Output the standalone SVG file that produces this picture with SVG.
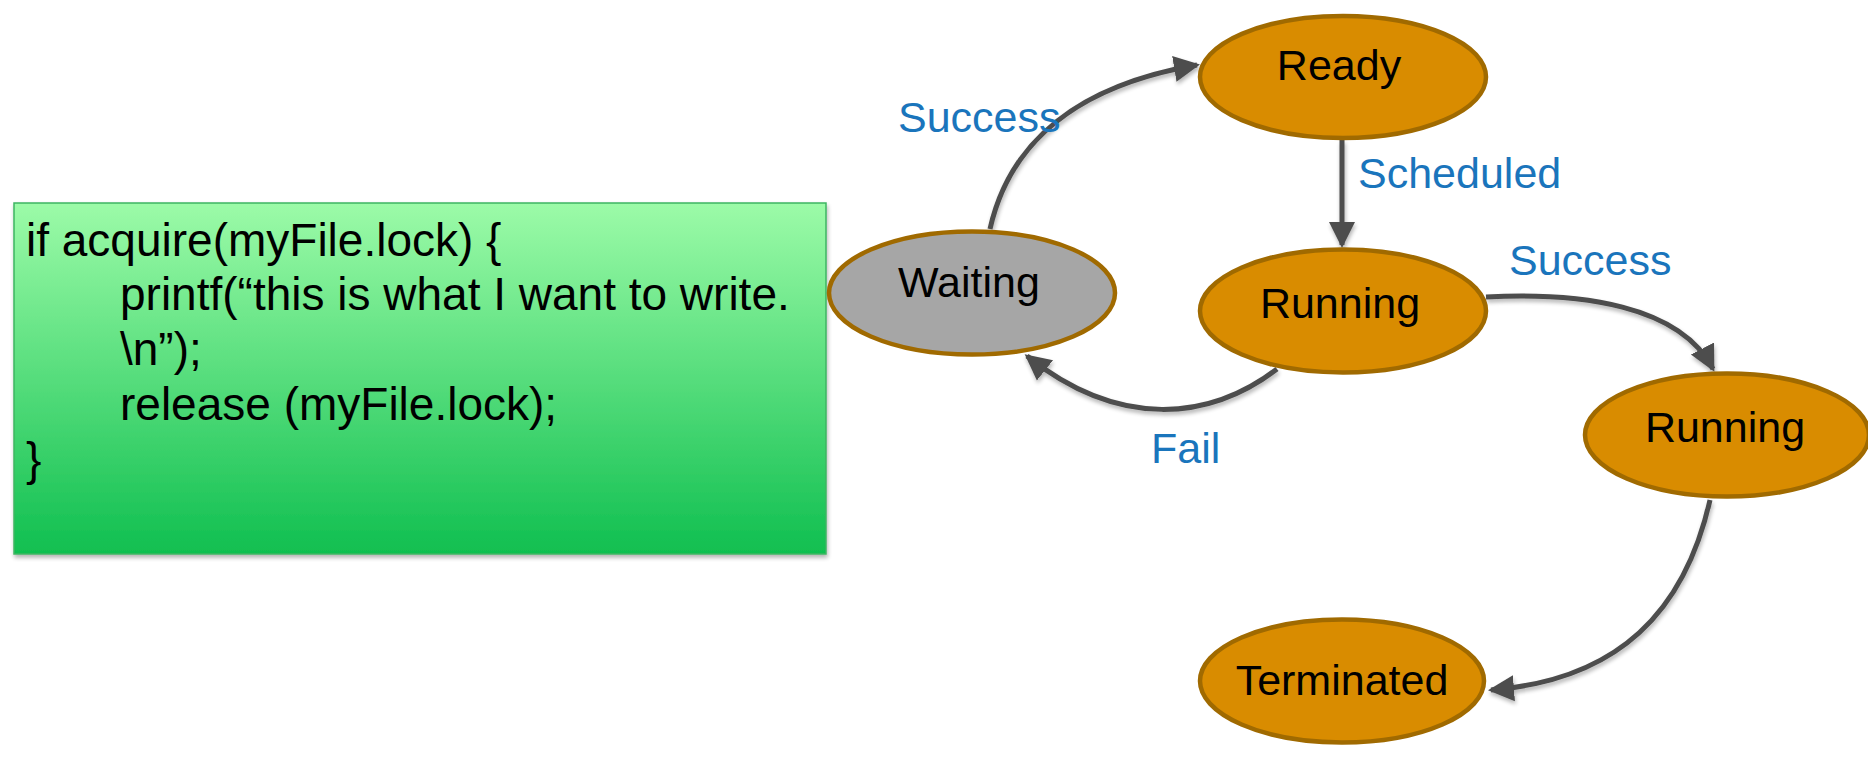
<svg xmlns="http://www.w3.org/2000/svg" width="1868" height="761" viewBox="0 0 1868 761">
  <defs>
    <linearGradient id="gfill" x1="0" y1="0" x2="0" y2="1">
      <stop offset="0" stop-color="#9CFBA8"/>
      <stop offset="1" stop-color="#10BF50"/>
    </linearGradient>
    <filter id="shadow" x="-10%" y="-10%" width="120%" height="120%">
      <feGaussianBlur in="SourceAlpha" stdDeviation="2"/>
      <feOffset dx="1" dy="3" result="b"/>
      <feComponentTransfer><feFuncA type="linear" slope="0.3"/></feComponentTransfer>
      <feMerge><feMergeNode/><feMergeNode in="SourceGraphic"/></feMerge>
    </filter>
    <marker id="arrow" markerUnits="userSpaceOnUse" markerWidth="28" markerHeight="28" viewBox="0 0 28 28" refX="23" refY="14" orient="auto">
      <path d="M0,1 L26,14 L0,27 Z" fill="#4D4D4D"/>
    </marker>
  </defs>
  <style>
    .state { stroke: #A06A00; stroke-width: 4.5; }
    .orange { fill: #D98C00; }
    .gray { fill: #A6A6A6; }
    .lbl { font-family: "Liberation Sans", Arial, sans-serif; font-size: 43px; fill: #000; text-anchor: middle; }
    .elbl { font-family: "Liberation Sans", Arial, sans-serif; font-size: 43px; fill: #1A75BC; }
    .code { font-family: "Liberation Sans", Arial, sans-serif; font-size: 46px; fill: #000; }
    .edge { fill: none; stroke: #4D4D4D; stroke-width: 5; marker-end: url(#arrow); }
  </style>

  <g id="code-box">
    <rect x="14" y="203" width="812" height="351" fill="url(#gfill)" stroke="#3DB562" stroke-width="1.5" filter="url(#shadow)"/>
    <text class="code" x="26" y="256">if acquire(myFile.lock) {</text>
    <text class="code" x="120" y="310">printf(“this is what I want to write.</text>
    <text class="code" x="120" y="365">\n”);</text>
    <text class="code" x="120" y="420">release (myFile.lock);</text>
    <text class="code" x="26" y="475">}</text>
  </g>

  <g id="connectors">
    <g filter="url(#shadow)">
      <path class="edge" d="M990,229 C1010,140 1080,85 1197,65"/>
      <path class="edge" d="M1342,140 L1342,245"/>
      <path class="edge" d="M1486,297 C1580,292 1680,305 1713,369"/>
      <path class="edge" d="M1710,500 C1685,610 1620,680 1491,690"/>
      <path class="edge" d="M1277,369 C1210,420 1120,430 1027,356"/>
    </g>
    <text class="elbl" x="898" y="132">Success</text>
    <text class="elbl" x="1358" y="188">Scheduled</text>
    <text class="elbl" x="1509" y="275">Success</text>
    <text class="elbl" x="1151" y="463">Fail</text>
  </g>

  <g id="ready">
    <ellipse class="state orange" cx="1343" cy="77" rx="143" ry="61"/>
    <text class="lbl" x="1339" y="80">Ready</text>
  </g>
  <g id="waiting">
    <ellipse class="state gray" cx="972" cy="293" rx="143" ry="61.5"/>
    <text class="lbl" x="969" y="297">Waiting</text>
  </g>
  <g id="running1">
    <ellipse class="state orange" cx="1343" cy="311" rx="143" ry="61.5"/>
    <text class="lbl" x="1340" y="318">Running</text>
  </g>
  <g id="running2">
    <ellipse class="state orange" cx="1727" cy="435" rx="142" ry="61.5"/>
    <text class="lbl" x="1725" y="442">Running</text>
  </g>
  <g id="terminated">
    <ellipse class="state orange" cx="1342" cy="681" rx="142" ry="61.5"/>
    <text class="lbl" x="1342" y="695">Terminated</text>
  </g>
</svg>
